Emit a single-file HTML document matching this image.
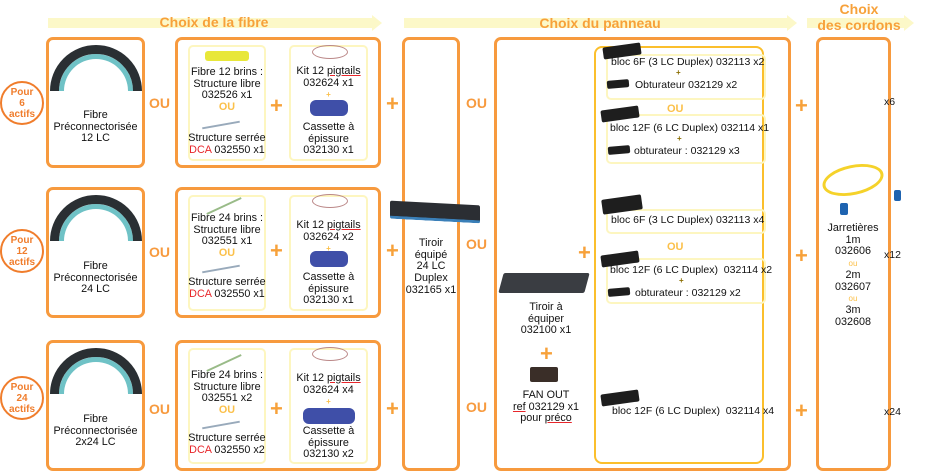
<!DOCTYPE html>
<html><head><meta charset="utf-8"><style>
*{margin:0;padding:0;box-sizing:border-box}
body{width:930px;height:473px;background:#fff;position:relative;overflow:hidden;font-family:"Liberation Sans",sans-serif;font-size:10px;color:#111}
.a{position:absolute}
.ob{position:absolute;border:3px solid #f79a3e;border-radius:7px}
.yb{position:absolute;border:2px solid #fdf6c0;border-radius:5px}
.t{position:absolute;text-align:center;line-height:11.7px;font-size:10.8px;white-space:nowrap}
.ou{position:absolute;color:#f79a3e;font-weight:bold;font-size:14px}
.plus{position:absolute;color:#f7a13a;font-weight:bold;font-size:22px;line-height:22px}
.c{position:absolute;width:44px;height:44px;border:2.5px solid #f07d2c;border-radius:50%;color:#f07d2c;font-weight:bold;font-size:10px;text-align:center;line-height:11px;padding-top:4px;background:#fff}
.band{position:absolute;height:10px;background:#fcf8c8}
.tri{position:absolute;width:0;height:0;border-top:8px solid transparent;border-bottom:8px solid transparent;border-left:10px solid #fcf8c8}
.h{position:absolute;color:#f7a13a;font-weight:bold;font-size:14px;text-align:center;line-height:16px}
.red{color:#e8262b}.oy{color:#fbc04a;font-weight:bold}
.blk{position:absolute;background:#1e1e1e;border-radius:2px}
.coil{position:absolute;width:92px;height:92px;border-radius:50%;border:9px solid #2a2f33;box-shadow:inset 0 0 0 5px #6fc2c6}
.cas{position:absolute;background:#3f4fa8;border-radius:6px}
.p{position:absolute;font-size:10.5px;white-space:nowrap}
u{text-decoration:underline;text-decoration-color:#e8262b}
</style></head><body>
<div class="band" style="left:48px;top:18px;width:325px"></div><div class="tri" style="left:372px;top:15px"></div>
<div class="h" style="left:48px;top:14px;width:332px">Choix de la fibre</div>
<div class="band" style="left:404px;top:18px;width:384px"></div><div class="tri" style="left:787px;top:15px"></div>
<div class="h" style="left:404px;top:15px;width:392px">Choix du panneau</div>
<div class="band" style="left:807px;top:18px;width:98px"></div><div class="tri" style="left:904px;top:15px"></div>
<div class="h" style="left:805px;top:1px;width:108px">Choix<br>des cordons</div>

<!-- row1 -->
<div class="c" style="left:0;top:81px">Pour<br>6<br>actifs</div>
<div class="ob" style="left:46px;top:37px;width:99px;height:131px"></div>
<div class="coil" style="left:50px;top:45px;clip-path:inset(0 0 50% 0)"></div>
<div class="t" style="left:46px;top:110px;width:99px">Fibre<br>Préconnectorisée<br>12 LC</div>
<div class="ou" style="left:149px;top:95px">OU</div>
<div class="ob" style="left:175px;top:37px;width:206px;height:131px"></div>
<div class="yb" style="left:188px;top:45px;width:78px;height:116px"></div>
<div class="a" style="left:205px;top:51px;width:44px;height:10px;background:#e8e73a;border-radius:3px"></div>
<div class="t" style="left:186px;top:67px;width:82px">Fibre 12 brins :<br>Structure libre<br>032526 x1<br><span class="oy">OU</span></div>
<div class="a" style="left:202px;top:124px;width:38px;height:2px;background:#9ab;transform:rotate(-10deg)"></div>
<div class="t" style="left:186px;top:133px;width:82px">Structure serrée<br><span class="red">DCA</span> 032550 x1</div>
<div class="plus" style="left:270px;top:95px">+</div>
<div class="yb" style="left:289px;top:45px;width:79px;height:116px"></div>
<div class="a" style="left:312px;top:45px;width:36px;height:14px;border:1px solid #b88;border-radius:50%"></div>
<div class="t" style="left:287px;top:66px;width:83px">Kit 12 <u>pigtails</u><br>032624 x1<br><span class="oy" style="font-size:8px">+</span></div>
<div class="cas" style="left:310px;top:100px;width:38px;height:16px"></div>
<div class="t" style="left:287px;top:122px;width:83px">Cassette à<br>épissure<br>032130 x1</div>
<div class="plus" style="left:386px;top:93px">+</div>

<!-- row2 -->
<div class="c" style="left:0;top:229px">Pour<br>12<br>actifs</div>
<div class="ob" style="left:46px;top:187px;width:99px;height:131px"></div>
<div class="coil" style="left:50px;top:195px;clip-path:inset(0 0 50% 0)"></div>
<div class="t" style="left:46px;top:261px;width:99px">Fibre<br>Préconnectorisée<br>24 LC</div>
<div class="ou" style="left:149px;top:244px">OU</div>
<div class="ob" style="left:175px;top:187px;width:206px;height:131px"></div>
<div class="yb" style="left:188px;top:195px;width:78px;height:116px"></div>
<div class="a" style="left:205px;top:205px;width:38px;height:2px;background:#9b8;transform:rotate(-25deg)"></div>
<div class="t" style="left:186px;top:213px;width:82px">Fibre 24 brins :<br>Structure libre<br>032551 x1<br><span class="oy">OU</span></div>
<div class="a" style="left:202px;top:268px;width:38px;height:2px;background:#9ab;transform:rotate(-10deg)"></div>
<div class="t" style="left:186px;top:277px;width:82px">Structure serrée<br><span class="red">DCA</span> 032550 x1</div>
<div class="plus" style="left:270px;top:240px">+</div>
<div class="yb" style="left:289px;top:195px;width:79px;height:116px"></div>
<div class="a" style="left:312px;top:194px;width:36px;height:14px;border:1px solid #b88;border-radius:50%"></div>
<div class="t" style="left:287px;top:220px;width:83px">Kit 12 <u>pigtails</u><br>032624 x2<br><span class="oy" style="font-size:8px">+</span></div>
<div class="cas" style="left:310px;top:251px;width:38px;height:16px"></div>
<div class="t" style="left:287px;top:272px;width:83px">Cassette à<br>épissure<br>032130 x1</div>
<div class="plus" style="left:386px;top:240px">+</div>

<!-- row3 -->
<div class="c" style="left:0;top:376px">Pour<br>24<br>actifs</div>
<div class="ob" style="left:46px;top:340px;width:99px;height:131px"></div>
<div class="coil" style="left:50px;top:348px;clip-path:inset(0 0 50% 0)"></div>
<div class="t" style="left:46px;top:414px;width:99px">Fibre<br>Préconnectorisée<br>2x24 LC</div>
<div class="ou" style="left:149px;top:401px">OU</div>
<div class="ob" style="left:175px;top:340px;width:206px;height:131px"></div>
<div class="yb" style="left:188px;top:348px;width:78px;height:116px"></div>
<div class="a" style="left:205px;top:362px;width:38px;height:2px;background:#9b8;transform:rotate(-25deg)"></div>
<div class="t" style="left:186px;top:370px;width:82px">Fibre 24 brins :<br>Structure libre<br>032551 x2<br><span class="oy">OU</span></div>
<div class="a" style="left:202px;top:424px;width:38px;height:2px;background:#9ab;transform:rotate(-10deg)"></div>
<div class="t" style="left:186px;top:433px;width:82px">Structure serrée<br><span class="red">DCA</span> 032550 x2</div>
<div class="plus" style="left:270px;top:398px">+</div>
<div class="yb" style="left:289px;top:348px;width:79px;height:116px"></div>
<div class="a" style="left:312px;top:347px;width:36px;height:14px;border:1px solid #b88;border-radius:50%"></div>
<div class="t" style="left:287px;top:373px;width:83px">Kit 12 <u>pigtails</u><br>032624 x4<br><span class="oy" style="font-size:8px">+</span></div>
<div class="cas" style="left:303px;top:408px;width:52px;height:16px"></div>
<div class="t" style="left:287px;top:426px;width:83px">Cassette à<br>épissure<br>032130 x2</div>
<div class="plus" style="left:386px;top:398px">+</div>

<!-- tiroir column -->
<div class="ob" style="left:402px;top:37px;width:58px;height:434px"></div>
<div class="blk" style="left:390px;top:203px;width:90px;height:18px;transform:skewY(3deg);background:#2b2e33;border-bottom:3px solid #3a7fb8"></div>
<div class="t" style="left:400px;top:238px;width:62px">Tiroir<br>équipé<br>24 LC<br>Duplex<br>032165 x1</div>
<div class="ou" style="left:466px;top:236px">OU</div>
<div class="ou" style="left:466px;top:95px">OU</div>
<div class="ou" style="left:466px;top:399px">OU</div>

<!-- panneau -->
<div class="ob" style="left:494px;top:37px;width:297px;height:434px"></div>
<div class="blk" style="left:501px;top:273px;width:86px;height:20px;background:#3a3d42;transform:skewX(-15deg)"></div>
<div class="t" style="left:500px;top:302px;width:92px">Tiroir à<br>équiper<br>032100 x1</div>
<div class="plus" style="left:540px;top:343px">+</div>
<div class="blk" style="left:530px;top:367px;width:28px;height:15px;background:#3a2e28"></div>
<div class="t" style="left:500px;top:390px;width:92px">FAN OUT<br><u>ref</u> 032129 x1<br>pour <u>préco</u></div>
<div class="plus" style="left:578px;top:242px">+</div>

<div class="a" style="left:594px;top:46px;width:170px;height:418px;border:2.5px solid #fbbf2c;border-radius:8px"></div>
<div class="yb" style="left:606px;top:54px;width:160px;height:46px"></div>
<div class="blk" style="left:603px;top:45px;width:38px;height:12px;transform:rotate(-8deg)"></div>
<div class="p" style="left:611px;top:56px">bloc 6F (3 LC Duplex) 032113 x2</div>
<div class="a" style="left:676px;top:68px;color:#8a6d00;font-size:8px;font-weight:bold">+</div>
<div class="blk" style="left:607px;top:80px;width:22px;height:8px;transform:rotate(-5deg)"></div>
<div class="p" style="left:635px;top:79px">Obturateur 032129 x2</div>
<div class="a oy" style="left:667px;top:103px;font-size:11px">OU</div>
<div class="yb" style="left:606px;top:114px;width:160px;height:50px"></div>
<div class="blk" style="left:601px;top:108px;width:38px;height:12px;transform:rotate(-8deg)"></div>
<div class="p" style="left:610px;top:122px">bloc 12F (6 LC Duplex) 032114 x1</div>
<div class="a" style="left:677px;top:134px;color:#8a6d00;font-size:8px;font-weight:bold">+</div>
<div class="blk" style="left:608px;top:146px;width:22px;height:8px;transform:rotate(-5deg)"></div>
<div class="p" style="left:634px;top:145px">obturateur : 032129 x3</div>

<div class="yb" style="left:606px;top:209px;width:160px;height:25px"></div>
<div class="blk" style="left:602px;top:197px;width:40px;height:15px;transform:rotate(-8deg)"></div>
<div class="p" style="left:611px;top:214px">bloc 6F (3 LC Duplex) 032113 x4</div>
<div class="a oy" style="left:667px;top:241px;font-size:11px">OU</div>
<div class="yb" style="left:606px;top:258px;width:160px;height:46px"></div>
<div class="blk" style="left:601px;top:253px;width:38px;height:12px;transform:rotate(-8deg)"></div>
<div class="p" style="left:610px;top:264px">bloc 12F (6 LC Duplex)&nbsp; 032114 x2</div>
<div class="a" style="left:679px;top:276px;color:#8a6d00;font-size:8px;font-weight:bold">+</div>
<div class="blk" style="left:608px;top:288px;width:22px;height:8px;transform:rotate(-5deg)"></div>
<div class="p" style="left:635px;top:287px">obturateur : 032129 x2</div>
<div class="blk" style="left:601px;top:392px;width:38px;height:12px;transform:rotate(-8deg)"></div>
<div class="p" style="left:612px;top:405px">bloc 12F (6 LC Duplex)&nbsp; 032114 x4</div>

<div class="plus" style="left:795px;top:95px">+</div>
<div class="plus" style="left:795px;top:245px">+</div>
<div class="plus" style="left:795px;top:400px">+</div>

<!-- cordons -->
<div class="ob" style="left:816px;top:37px;width:75px;height:434px"></div>
<div class="a" style="left:822px;top:165px;width:62px;height:30px;border:3px solid #f5d22a;border-radius:50%;transform:rotate(-12deg)"></div>
<div class="a" style="left:840px;top:203px;width:8px;height:12px;background:#1e63b0;border-radius:2px"></div>
<div class="a" style="left:894px;top:190px;width:7px;height:11px;background:#1e63b0;border-radius:2px"></div>
<div class="t" style="left:818px;top:223px;width:70px">Jarretières<br>1m<br>032606<br><span style="color:#fbc04a;font-size:8px">ou</span><br>2m<br>032607<br><span style="color:#fbc04a;font-size:8px">ou</span><br>3m<br>032608</div>
<div class="p" style="left:884px;top:96px">x6</div>
<div class="p" style="left:884px;top:249px">x12</div>
<div class="p" style="left:884px;top:406px">x24</div>
</body></html>
